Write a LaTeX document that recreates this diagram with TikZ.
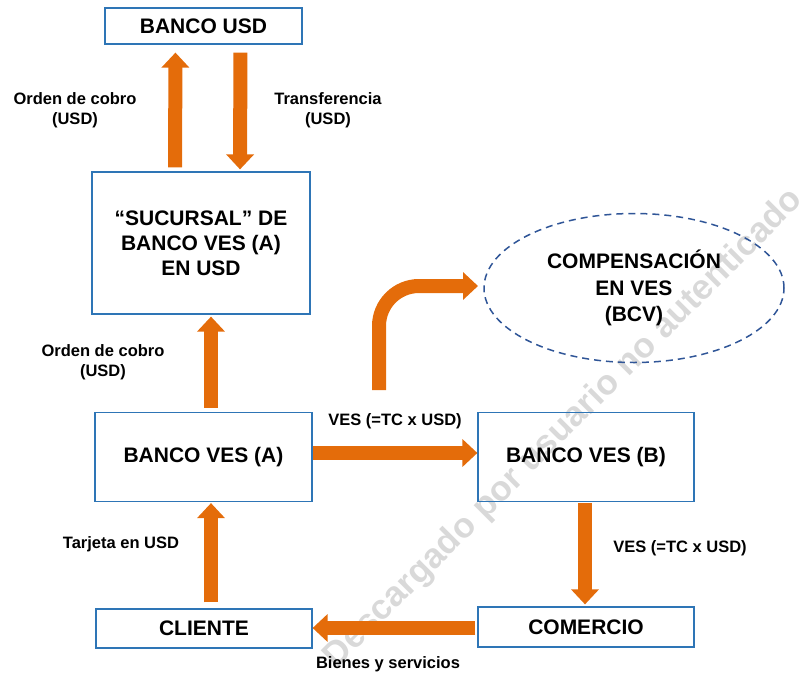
\documentclass[tikz,border=0pt]{standalone}
\usepackage{fontspec}
\setmainfont{Liberation Sans}
\usetikzlibrary{arrows.meta,shapes.geometric,calc}
\definecolor{arrorange}{HTML}{E46C0A}
\definecolor{boxblue}{HTML}{2E75B6}
\definecolor{ellblue}{HTML}{2F5597}
\definecolor{wmgray}{HTML}{D9D9D9}
\tikzset{
  x=1pt,y=-1pt,
  box/.style={draw=boxblue,line width=1.2pt,minimum width=#1,align=center,font=\fontsize{21}{25}\selectfont\bfseries,inner sep=0pt},
  box/.default=216pt,
  lbl/.style={align=center,font=\fontsize{16.5}{20}\selectfont\bfseries,inner sep=0pt},
  arr/.style={draw=arrorange,line width=14pt,-{Triangle[length=15pt,width=27pt]}},
}
\begin{document}
\begin{tikzpicture}
\useasboundingbox (0,0) rectangle (804,675);
% watermark
\node[text=wmgray,rotate=45,font=\fontsize{35}{38}\selectfont\bfseries] (wm) at (564,429) {Descargado por usuario no autenticado};
% boxes
\node[box=197pt,minimum height=36pt] (busd) at (203.5,26) {BANCO USD};
\node[box=218pt,minimum height=142pt] (suc) at (201,243) {“SUCURSAL” DE\\BANCO VES (A)\\EN USD};
\node[box=217pt,minimum height=89pt] (bva) at (203.5,457) {BANCO VES (A)};
\node[box=216pt,minimum height=89pt] (bvb) at (586,457) {BANCO VES (B)};
\node[box=216pt,minimum height=39pt] (cli) at (204,628.5) {CLIENTE};
\node[box=216pt,minimum height=40pt] (com) at (586,627) {COMERCIO};
\node[draw=ellblue,dash pattern=on 7pt off 5pt,line width=1.5pt,ellipse,minimum width=300pt,minimum height=149pt,align=center,font=\fontsize{21}{26.5}\selectfont\bfseries,inner sep=0pt] (ell) at (634,288) {COMPENSACIÓN\\EN VES\\(BCV)};
% labels
\node[lbl] (l1) at (75,110) {Orden de cobro\\(USD)};
\node[lbl] (l2) at (328,110) {Transferencia\\(USD)};
\node[lbl] (l3) at (103,362) {Orden de cobro\\(USD)};
\node[lbl] (l4) at (395,421) {VES (=TC x USD)};
\node[lbl] (l5) at (680,548) {VES (=TC x USD)};
\node[lbl] (l6) at (121,544) {Tarjeta en USD};
\node[lbl] (l7) at (388,664) {Bienes y servicios};
% arrows
\draw[arr,shorten <=4pt,shorten >=8pt] ($(suc.north)+(-26,0)$) -- ($(busd.south)+(-28,0)$);
\draw[arr,shorten <=8pt,shorten >=2pt] ($(busd.south)+(37,0)$) -- ($(suc.north)+(39,0)$);
\draw[arr,shorten <=4pt,shorten >=2pt] ($(bva.north)+(7.5,0)$) -- ($(suc.south)+(10,0)$);
\draw[arr,shorten >=0pt] (bva.east |- 0,453) -- (bvb.west |- 0,453);
\draw[arr,shorten <=1pt,shorten >=2pt] ($(bvb.south)+(-1,0)$) -- ($(com.north)+(-1,0)$);
\draw[arr,shorten <=2pt,shorten >=0pt] (com.west |- 0,628) -- (cli.east |- 0,628);
\draw[arr,shorten <=6pt,shorten >=1pt] ($(cli.north)+(7,0)$) -- ($(bva.south)+(7.5,0)$);
\coordinate (cstart) at (379,390);
\coordinate (cend) at (478,286);
\draw[arr,rounded corners=40pt] (cstart) |- (cend);
\end{tikzpicture}
\end{document}
